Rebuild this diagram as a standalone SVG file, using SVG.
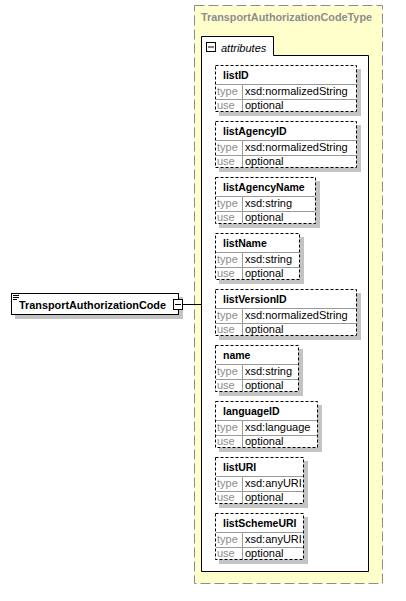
<svg xmlns="http://www.w3.org/2000/svg" width="406" height="601" viewBox="0 0 406 601">
<style>
text{font-family:"Liberation Sans","DejaVu Sans",sans-serif;font-size:11px}
.nm{font-weight:bold;fill:#000;font-size:10.5px}
.lb{fill:#8c8c8c}
.vl{fill:#000}
.ab{fill:#fff;stroke:#000;stroke-width:1;stroke-dasharray:3,2}
.sh{fill:#c3c3c3}
.dv{stroke:#9a9a9a;stroke-width:1}
</style>
<rect width="406" height="601" fill="#fff"/>
<g id="type">
<rect x="194.5" y="5.5" width="188" height="578" fill="#ffffcc" stroke="#8c8c8c" stroke-dasharray="10,4"/>
<text x="201" y="21" style="font-weight:bold;fill:#8c8c8c" textLength="171" lengthAdjust="spacingAndGlyphs">TransportAuthorizationCodeType</text>
</g>
<g id="attributes">
<path d="M201.5 571.5 V36.5 H273.5 V55.5 H368.5 V571.5 Z" fill="#fff" stroke="#000"/>
<rect x="206.5" y="42.5" width="9" height="9" fill="#fff" stroke="#000"/>
<line x1="208" y1="47" x2="214" y2="47" stroke="#000"/>
<text x="221" y="51.5" style="font-style:italic">attributes</text>
</g>
<g id="connectors">
<line x1="183" y1="304.5" x2="201.5" y2="304.5" stroke="#000"/>
</g>
<g id="element">
<rect x="15" y="297" width="168" height="22" class="sh"/>
<rect x="11.5" y="293.5" width="167" height="21" fill="#fff" stroke="#000"/>
<path d="M13 295.5H19M13 297.5H19M13 299.5H17" stroke="#000" stroke-width="1"/>
<text x="19" y="308.5" style="font-weight:bold;font-size:11px" textLength="147" lengthAdjust="spacingAndGlyphs">TransportAuthorizationCode</text>
<rect x="173.5" y="299.5" width="9" height="10" fill="#fff" stroke="#000"/>
<line x1="175" y1="304.5" x2="181" y2="304.5" stroke="#000"/>
</g>
<g id="listID">
<rect x="219" y="69" width="142" height="47" class="sh"/>
<rect x="215.5" y="65.5" width="141" height="46" class="ab"/>
<path d="M216 84.5H356M216 99.5H356M242.5 85V111" class="dv"/>
<text x="223" y="79" class="nm">listID</text>
<text x="217" y="95" class="lb">type</text><text x="245" y="95" class="vl">xsd:normalizedString</text>
<text x="217" y="109" class="lb">use</text><text x="245" y="109" class="vl">optional</text>
</g>
<g id="listAgencyID">
<rect x="219" y="125" width="142" height="47" class="sh"/>
<rect x="215.5" y="121.5" width="141" height="46" class="ab"/>
<path d="M216 140.5H356M216 155.5H356M242.5 141V167" class="dv"/>
<text x="223" y="135" class="nm">listAgencyID</text>
<text x="217" y="151" class="lb">type</text><text x="245" y="151" class="vl">xsd:normalizedString</text>
<text x="217" y="165" class="lb">use</text><text x="245" y="165" class="vl">optional</text>
</g>
<g id="listAgencyName">
<rect x="219" y="181" width="101" height="47" class="sh"/>
<rect x="215.5" y="177.5" width="100" height="46" class="ab"/>
<path d="M216 196.5H315M216 211.5H315M242.5 197V223" class="dv"/>
<text x="223" y="191" class="nm">listAgencyName</text>
<text x="217" y="207" class="lb">type</text><text x="245" y="207" class="vl">xsd:string</text>
<text x="217" y="221" class="lb">use</text><text x="245" y="221" class="vl">optional</text>
</g>
<g id="listName">
<rect x="219" y="237" width="85" height="47" class="sh"/>
<rect x="215.5" y="233.5" width="84" height="46" class="ab"/>
<path d="M216 252.5H299M216 267.5H299M242.5 253V279" class="dv"/>
<text x="223" y="247" class="nm">listName</text>
<text x="217" y="263" class="lb">type</text><text x="245" y="263" class="vl">xsd:string</text>
<text x="217" y="277" class="lb">use</text><text x="245" y="277" class="vl">optional</text>
</g>
<g id="listVersionID">
<rect x="219" y="293" width="142" height="47" class="sh"/>
<rect x="215.5" y="289.5" width="141" height="46" class="ab"/>
<path d="M216 308.5H356M216 323.5H356M242.5 309V335" class="dv"/>
<text x="223" y="303" class="nm">listVersionID</text>
<text x="217" y="319" class="lb">type</text><text x="245" y="319" class="vl">xsd:normalizedString</text>
<text x="217" y="333" class="lb">use</text><text x="245" y="333" class="vl">optional</text>
</g>
<g id="name">
<rect x="219" y="349" width="84" height="47" class="sh"/>
<rect x="215.5" y="345.5" width="83" height="46" class="ab"/>
<path d="M216 364.5H298M216 379.5H298M242.5 365V391" class="dv"/>
<text x="223" y="359" class="nm">name</text>
<text x="217" y="375" class="lb">type</text><text x="245" y="375" class="vl">xsd:string</text>
<text x="217" y="389" class="lb">use</text><text x="245" y="389" class="vl">optional</text>
</g>
<g id="languageID">
<rect x="219" y="405" width="103" height="47" class="sh"/>
<rect x="215.5" y="401.5" width="102" height="46" class="ab"/>
<path d="M216 420.5H317M216 435.5H317M242.5 421V447" class="dv"/>
<text x="223" y="415" class="nm">languageID</text>
<text x="217" y="431" class="lb">type</text><text x="245" y="431" class="vl">xsd:language</text>
<text x="217" y="445" class="lb">use</text><text x="245" y="445" class="vl">optional</text>
</g>
<g id="listURI">
<rect x="219" y="461" width="89" height="47" class="sh"/>
<rect x="215.5" y="457.5" width="88" height="46" class="ab"/>
<path d="M216 476.5H303M216 491.5H303M242.5 477V503" class="dv"/>
<text x="223" y="471" class="nm">listURI</text>
<text x="217" y="487" class="lb">type</text><text x="245" y="487" class="vl">xsd:anyURI</text>
<text x="217" y="501" class="lb">use</text><text x="245" y="501" class="vl">optional</text>
</g>
<g id="listSchemeURI">
<rect x="219" y="517" width="89" height="47" class="sh"/>
<rect x="215.5" y="513.5" width="88" height="46" class="ab"/>
<path d="M216 532.5H303M216 547.5H303M242.5 533V559" class="dv"/>
<text x="223" y="527" class="nm">listSchemeURI</text>
<text x="217" y="543" class="lb">type</text><text x="245" y="543" class="vl">xsd:anyURI</text>
<text x="217" y="557" class="lb">use</text><text x="245" y="557" class="vl">optional</text>
</g>
</svg>
